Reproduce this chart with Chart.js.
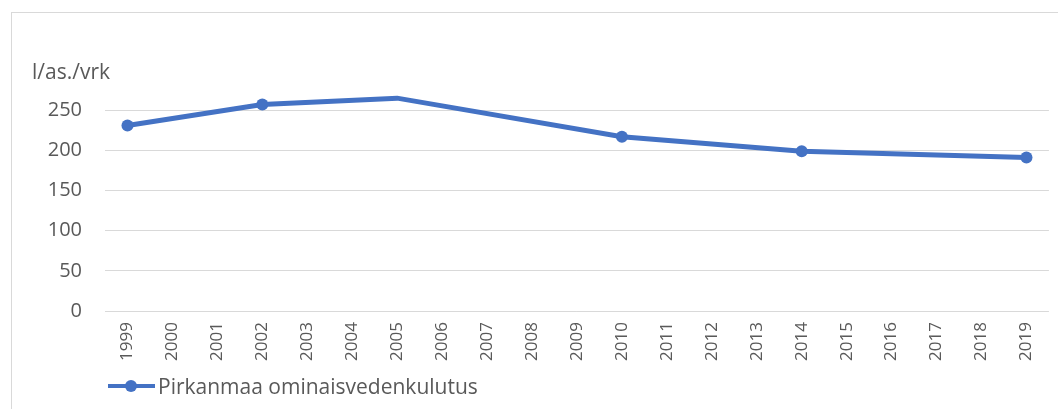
<!DOCTYPE html>
<html>
<head>
<meta charset="utf-8">
<script src="https://cdn.jsdelivr.net/npm/chart.js"></script>
<style>
  body { margin: 0; width: 1058px; height: 409px; overflow: hidden; background: #fff; font-family: "Open Sans", sans-serif; }
  #frame { position: absolute; left: 11px; top: 12px; width: 1200px; height: 600px; border: 1px solid #d9d9d9; }
  #chart { position: absolute; left: 0; top: 0; }
  #legend { position: absolute; left: 108px; top: 372px; display: flex; align-items: center; color: #595959; font-size: 21px; }
  #legend .mark { position: relative; width: 47px; height: 4px; background: #4472C4; margin-right: 3px; }
  #legend .mark::after { content: ""; position: absolute; left: 17px; top: -4px; width: 12px; height: 12px; border-radius: 50%; background: #4472C4; }
</style>
</head>
<body>
<div id="frame"></div>
<canvas id="chart" width="1058" height="409"></canvas>
<div id="legend"><span class="mark"></span><span>Pirkanmaa ominaisvedenkulutus</span></div>

<script>
    // years on the x axis, values only for the measured years
    const years = ['1999', '2000', '2001', '2002', '2003', '2004', '2005', '2006', '2007', '2008', '2009',
                   '2010', '2011', '2012', '2013', '2014', '2015', '2016', '2017', '2018', '2019'];
    const consumption = [231, null, null, 257, null, null, 265, null, null, null, null,
                         217, null, null, null, 199, null, null, null, null, 191];
    const yTicks = [0, 50, 100, 150, 200, 250];
    const seriesName = 'Pirkanmaa ominaisvedenkulutus';
    const unitLabel = 'l/as./vrk';

    const ctx = document.getElementById('chart').getContext('2d');
    new Chart(ctx, {
        type: 'line',
        data: {
            labels: years,
            datasets: [{
                label: seriesName,
                data: consumption,
                borderColor: '#4472C4',
                backgroundColor: '#4472C4',
                borderWidth: 5,
                pointRadius: 6,
                pointBorderWidth: 0,
                spanGaps: true,
                clip: false,
                tension: 0
            }]
        },
        options: {
            responsive: false,
            animation: false,
            layout: { padding: { left: 32, right: 6, top: 0, bottom: 43 } },
            plugins: {
                legend: { display: false },
                tooltip: { enabled: false },
                title: {
                    display: true,
                    text: unitLabel,
                    align: 'start',
                    color: '#595959',
                    font: { family: 'Open Sans', size: 21, weight: 'normal' },
                    padding: { top: 60, bottom: 25 }
                }
            },
            scales: {
                x: {
                    offset: true,
                    grid: { display: false, drawTicks: false },
                    border: { display: false },
                    ticks: {
                        minRotation: 90,
                        maxRotation: 90,
                        autoSkip: false,
                        padding: 11,
                        color: '#595959',
                        font: { family: 'Open Sans', size: 17 }
                    },
                    afterFit: scale => { scale.height = 55; }
                },
                y: {
                    min: 0,
                    max: 250,
                    afterBuildTicks: scale => { scale.ticks = yTicks.map(v => ({ value: v })); },
                    grid: { color: '#d9d9d9', lineWidth: 1, drawTicks: false },
                    border: { display: false },
                    ticks: {
                        padding: 23,
                        color: '#595959',
                        font: { family: 'Open Sans', size: 20 }
                    },
                    afterFit: scale => { scale.width = 73; }
                }
            }
        }
    });
</script>
</body>
</html>
